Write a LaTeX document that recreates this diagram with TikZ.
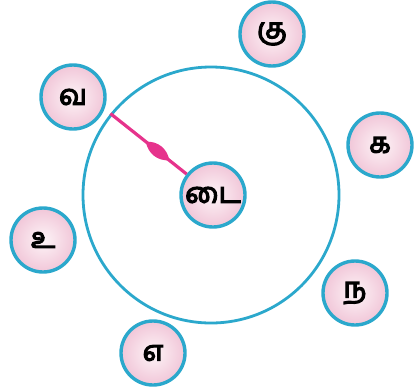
\documentclass[tikz,border=0pt]{standalone}
\usepackage{fontspec}
\newfontfamily\tamilfont[Script=Tamil, FakeBold=4.5]{Hind Madurai}
\usetikzlibrary{decorations.markings}
\definecolor{ringblue}{HTML}{2BA8CC}
\definecolor{petal}{HTML}{F1C6D8}
\definecolor{petalin}{HTML}{FDF4F7}
\definecolor{arrowpink}{HTML}{E6338C}
\tikzset{
  letter/.style={circle, draw=ringblue, line width=3.4pt, minimum size=64pt, inner sep=0pt,
    inner color=petalin, outer color=petal,
    font=\tamilfont\fontsize{28}{28}\selectfont},
  ring/.style={circle, draw=ringblue, line width=2.8pt, minimum size=256pt, inner sep=0pt},
  arrowline/.style={draw=arrowpink, line width=3.2pt,
    postaction={decorate, decoration={markings, mark=at position 0.62 with {
      \fill[arrowpink] (-15pt,0) .. controls (-6pt,8pt) and (6pt,8pt) .. (15pt,0)
        .. controls (6pt,-8pt) and (-6pt,-8pt) .. (-15pt,0);}}}}
}
\begin{document}
\begin{tikzpicture}[x=1pt,y=-1pt]
\useasboundingbox (0,0) rectangle (414,391);
\node[ring] (R) at (211,195) {};
\node[letter] (c) at (213,195) {டை};
\node[letter] (va) at (73,97) {வ};
\node[letter] (ku) at (272,34) {கு};
\node[letter] (ka) at (380,145) {க};
\node[letter] (u) at (43,240) {உ};
\node[letter] (na) at (355,293) {ந};
\node[letter] (e) at (153,353) {எ};
\draw[arrowline] (R.141) -- (c);
\end{tikzpicture}
\end{document}
